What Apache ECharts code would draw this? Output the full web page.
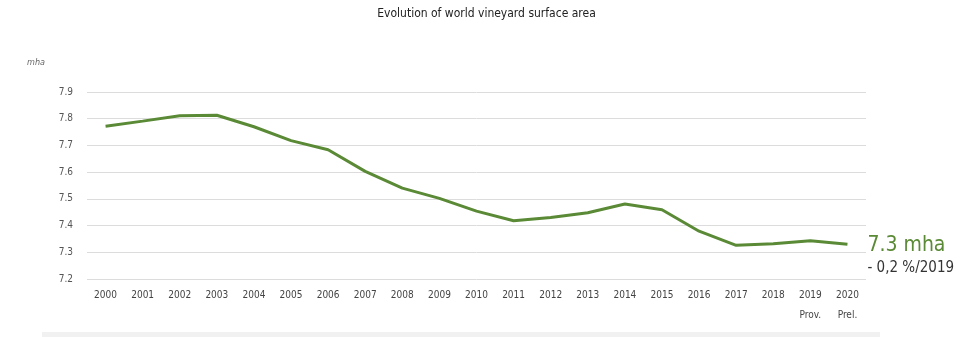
<!DOCTYPE html>
<html>
<head>
<meta charset="utf-8">
<script src="https://cdn.jsdelivr.net/npm/echarts@6/dist/echarts.min.js"></script>
<style>
  html, body { margin: 0; padding: 0; background: #fff; }
  #chart { width: 973px; height: 337px; }
</style>
</head>
<body>
<div id="chart"></div>
<script>
// World vineyard surface area, million hectares
const years = ['2000', '2001', '2002', '2003', '2004', '2005', '2006', '2007', '2008', '2009',
  '2010', '2011', '2012', '2013', '2014', '2015', '2016', '2017', '2018', '2019\nProv.', '2020\nPrel.'];
const surface = [7.772, 7.791, 7.811, 7.813, 7.770, 7.718, 7.684, 7.603, 7.540, 7.502,
  7.454, 7.418, 7.430, 7.448, 7.481, 7.459, 7.379, 7.326, 7.332, 7.343, 7.330];
const yTicks = { min: 7.2, max: 7.9, step: 0.1 };
const lastValueLabel = '7.3 mha';
const changeLabel = '- 0,2 %/2019';

const FONT = '"Liberation Sans Narrow", "DejaVu Sans Condensed", "Roboto", sans-serif';
const GREEN = '#5a8a35';

const chart = echarts.init(document.getElementById('chart'));
chart.setOption({
  animation: false,
  title: {
    text: 'Evolution of world vineyard surface area',
    left: 'center',
    top: 3,
    textStyle: { fontFamily: FONT, fontSize: 12, fontWeight: 'normal', color: '#222' }
  },
  grid: { left: 87, right: 107, top: 92, bottom: 58, containLabel: false },
  xAxis: {
    type: 'category',
    data: years,
    boundaryGap: true,
    axisLine: { show: false },
    axisTick: { show: false },
    axisLabel: {
      fontFamily: FONT, fontSize: 10, color: '#444', margin: 6, lineHeight: 20
    }
  },
  yAxis: {
    type: 'value',
    min: yTicks.min,
    max: yTicks.max,
    interval: yTicks.step,
    name: 'mha',
    nameLocation: 'end',
    nameGap: 25,
    nameTextStyle: { fontFamily: FONT, fontSize: 9, fontStyle: 'italic', color: '#666', align: 'right', padding: [0, 42, 0, 0] },
    axisLine: { show: false },
    axisTick: { show: false },
    splitLine: { lineStyle: { color: '#dcdcdc', width: 1 } },
    axisLabel: {
      fontFamily: FONT, fontSize: 10, color: '#555', margin: 14,
      formatter: v => v.toFixed(1)
    }
  },
  series: [{
    type: 'line',
    data: surface,
    symbol: 'none',
    lineStyle: { color: GREEN, width: 3 },
    endLabel: {
      show: true,
      distance: 20,
      formatter: () => '{a|' + lastValueLabel + '}\n{b|' + changeLabel + '}',
      rich: {
        a: { fontFamily: FONT, fontSize: 21, color: GREEN, lineHeight: 23 },
        b: { fontFamily: FONT, fontSize: 15, color: '#333', lineHeight: 22 }
      },
      offset: [0, 12]
    }
  }],
  graphic: [{
    type: 'rect',
    shape: { x: 42, y: 332, width: 838, height: 8 },
    style: { fill: '#f1f1f1' },
    silent: true
  }]
});
</script>
</body>
</html>
